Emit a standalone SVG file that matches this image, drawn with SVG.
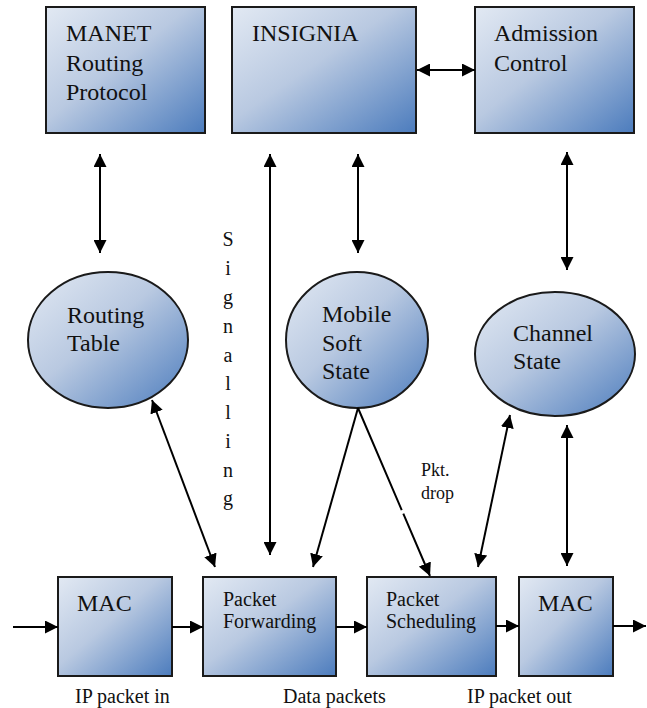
<svg xmlns="http://www.w3.org/2000/svg" width="647" height="708" viewBox="0 0 647 708">
<defs>
<linearGradient id="g" x1="0" y1="0" x2="1" y2="1">
<stop offset="0" stop-color="#e2e9f3"/>
<stop offset="0.45" stop-color="#b9c9e1"/>
<stop offset="1" stop-color="#4c7cbd"/>
</linearGradient>
<marker id="ah" viewBox="0 0 10 10" refX="10" refY="5" markerUnits="userSpaceOnUse" markerWidth="13" markerHeight="13" orient="auto-start-reverse">
<path d="M0,0 L10,5 L0,10 z" fill="#000"/>
</marker>
<style>
.n{fill:url(#g);stroke:#1a1a1a;stroke-width:2}
text{font-family:'Liberation Serif','DejaVu Serif',serif;fill:#111}
.t{font-size:24px}
.s{font-size:20px}
.p{font-size:18px}
.c{stroke:#000;stroke-width:2;fill:none}
.d{marker-start:url(#ah);marker-end:url(#ah)}
.e{marker-end:url(#ah)}
</style>
</defs>
<g font-family="'Liberation Serif','DejaVu Serif',serif">
<g id="manet"><rect class="n" x="46" y="7" width="159" height="126"/><text class="t" x="66" y="41">MANET</text><text class="t" x="66" y="71">Routing</text><text class="t" x="66" y="100">Protocol</text></g>
<g id="insignia"><rect class="n" x="232" y="7" width="184" height="126"/><text class="t" x="252" y="41">INSIGNIA</text></g>
<g id="admission"><rect class="n" x="475" y="7" width="159" height="126"/><text class="t" x="494" y="41">Admission</text><text class="t" x="494" y="71">Control</text></g>
<g id="routing-table"><ellipse class="n" cx="108" cy="340" rx="80" ry="68"/><text class="t" x="67" y="323">Routing</text><text class="t" x="67" y="351">Table</text></g>
<g id="mobile-soft-state"><ellipse class="n" cx="357" cy="340" rx="71" ry="68"/><text class="t" x="322" y="322">Mobile</text><text class="t" x="322" y="351">Soft</text><text class="t" x="322" y="379">State</text></g>
<g id="channel-state"><ellipse class="n" cx="555" cy="354" rx="80" ry="62"/><text class="t" x="513" y="341">Channel</text><text class="t" x="513" y="369">State</text></g>
<g id="mac-in"><rect class="n" x="58" y="577" width="114" height="99"/><text class="t" x="77" y="611">MAC</text></g>
<g id="packet-forwarding"><rect class="n" x="203" y="577" width="133" height="99"/><text class="s" x="223" y="606">Packet</text><text class="s" x="223" y="628">Forwarding</text></g>
<g id="packet-scheduling"><rect class="n" x="367" y="577" width="129" height="99"/><text class="s" x="386" y="606">Packet</text><text class="s" x="386" y="628">Scheduling</text></g>
<g id="mac-out"><rect class="n" x="519" y="577" width="94" height="99"/><text class="t" x="538" y="611">MAC</text></g>
<g id="connectors">
<line class="c d" x1="417" y1="70" x2="475" y2="70"/>
<line class="c d" x1="100" y1="154" x2="100" y2="253"/>
<line class="c d" x1="270" y1="154" x2="270" y2="555"/>
<line class="c d" x1="358" y1="154" x2="358" y2="253"/>
<line class="c d" x1="567" y1="152" x2="567" y2="270"/>
<line class="c d" x1="152" y1="400" x2="215" y2="567"/>
<line class="c e" x1="358" y1="408" x2="313" y2="567"/>
<line class="c e" x1="358" y1="408" x2="430" y2="576" stroke-dasharray="111 4 200"/>
<line class="c d" x1="510" y1="415" x2="478" y2="567"/>
<line class="c d" x1="567" y1="425" x2="567" y2="566"/>
<line class="c e" x1="13" y1="627" x2="58" y2="627"/>
<line class="c e" x1="172" y1="627" x2="203" y2="627"/>
<line class="c e" x1="336" y1="627" x2="367" y2="627"/>
<line class="c e" x1="496" y1="626" x2="519" y2="626"/>
<line class="c e" x1="613" y1="626" x2="646" y2="626"/>
</g>
<g id="labels">
<g class="s" text-anchor="middle">
<text class="s" x="228" y="246">S</text><text class="s" x="228" y="275">i</text><text class="s" x="228" y="304">g</text><text class="s" x="228" y="333">n</text><text class="s" x="228" y="362">a</text><text class="s" x="228" y="390">l</text><text class="s" x="228" y="419">l</text><text class="s" x="228" y="448">i</text><text class="s" x="228" y="477">n</text><text class="s" x="228" y="505">g</text>
</g>
<text class="p" x="421" y="476">Pkt.</text>
<text class="p" x="421" y="499">drop</text>
<text class="s" x="75" y="703">IP packet in</text>
<text class="s" x="283" y="703">Data packets</text>
<text class="s" x="467" y="703">IP packet out</text>
</g>
</g>
</svg>
